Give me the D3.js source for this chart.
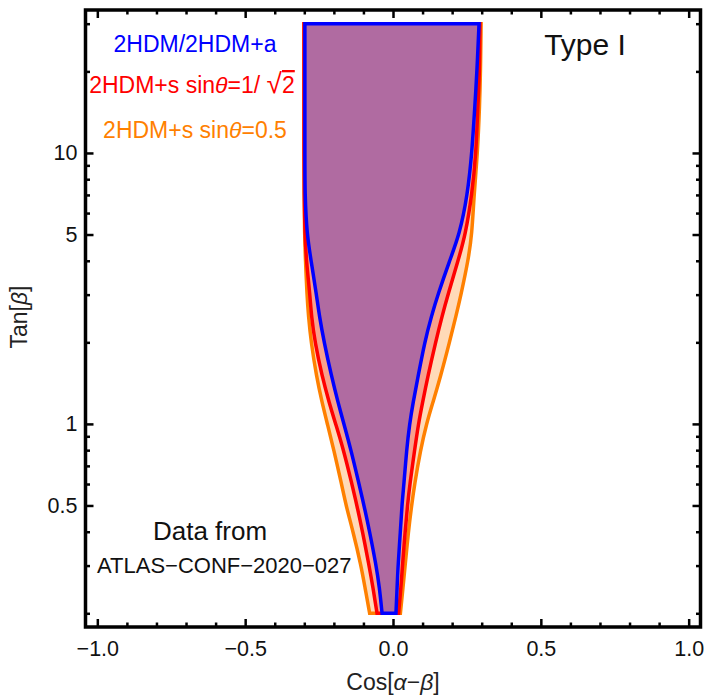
<!DOCTYPE html>
<html>
<head>
<meta charset="utf-8">
<title>Type I - Cos[a-b] vs Tan[b]</title>
<script src="https://cdn.jsdelivr.net/npm/d3@7"></script>
<style>
body { margin: 0; background: #fff; }
text { font-family: "Liberation Sans", Arial, sans-serif; }
.tick line { stroke: #000; stroke-width: 2.5; }
.tick text { font-size: 21.5px; fill: #111; }
</style>
</head>
<body>
<svg id="chart" width="707" height="696"></svg>
<script>
// tan(beta) sample points, shared by all boundaries (top -> bottom)
var tanB = [30, 20, 15, 10, 7, 5, 4, 3, 2.5, 2, 1.5, 1.2, 1, 0.8, 0.6, 0.5, 0.4, 0.3, 0.25, 0.2];

// 2HDM / 2HDM+a (blue)
var blueLeft  = [-0.298, -0.298, -0.298, -0.298, -0.298, -0.291, -0.277, -0.259, -0.249, -0.233, -0.208, -0.186, -0.166, -0.142, -0.115, -0.098, -0.079, -0.057, -0.046, -0.037];
var blueRight = [0.291, 0.284, 0.277, 0.267, 0.252, 0.225, 0.191, 0.152, 0.130, 0.107, 0.085, 0.068, 0.056, 0.046, 0.037, 0.030, 0.025, 0.017, 0.014, 0.010];

// 2HDM+s sin(theta)=1/sqrt2 (red)
var redLeft  = [-0.301, -0.301, -0.301, -0.301, -0.300, -0.298, -0.293, -0.281, -0.276, -0.264, -0.240, -0.216, -0.194, -0.167, -0.139, -0.122, -0.103, -0.081, -0.068, -0.054];
var redRight = [0.294, 0.293, 0.287, 0.281, 0.267, 0.245, 0.220, 0.186, 0.166, 0.144, 0.118, 0.100, 0.086, 0.073, 0.057, 0.049, 0.041, 0.032, 0.027, 0.019];

// 2HDM+s sin(theta)=0.5 (orange)
var orangeLeft  = [-0.301, -0.301, -0.301, -0.301, -0.301, -0.299, -0.296, -0.291, -0.286, -0.277, -0.259, -0.240, -0.222, -0.200, -0.174, -0.159, -0.135, -0.108, -0.095, -0.079];
var orangeRight = [0.298, 0.296, 0.293, 0.286, 0.274, 0.267, 0.254, 0.230, 0.213, 0.191, 0.161, 0.135, 0.113, 0.093, 0.073, 0.063, 0.052, 0.041, 0.034, 0.025];

// ticks
var xMajor = [-1, -0.5, 0, 0.5, 1];
var xMajorLabels = ["\u22121.0", "\u22120.5", "0.0", "0.5", "1.0"];
var xMinor = [-0.9, -0.8, -0.7, -0.6, -0.4, -0.3, -0.2, -0.1, 0.1, 0.2, 0.3, 0.4, 0.6, 0.7, 0.8, 0.9];
var yMajor = [0.5, 1, 5, 10];
var yMajorLabels = ["0.5", "1", "5", "10"];
var yMinor = [0.2, 0.3, 0.4, 0.6, 0.7, 0.8, 0.9, 2, 3, 4, 6, 7, 8, 9, 20, 30];

var L = 85.5, R = 700.5, T = 10, B = 627;

var x = d3.scaleLinear().domain([-1.04, 1.04]).range([L, R]);
var y = d3.scaleLog().domain([0.178, 33.7]).range([B, T]);

var svg = d3.select("#chart");
svg.append("rect").attr("width", 707).attr("height", 696).attr("fill", "#fff");

svg.append("clipPath").attr("id", "clip")
  .append("rect").attr("x", L).attr("y", T).attr("width", R - L).attr("height", B - T);

var regions = [
  { left: orangeLeft, right: orangeRight, fill: "#FFDAB8", stroke: "#FF8000" },
  { left: redLeft,    right: redRight,    fill: "#F8A08C", stroke: "#FF0000" },
  { left: blueLeft,   right: blueRight,   fill: "#B06BA1", stroke: "#0000FF" }
];

var area = d3.area()
  .curve(d3.curveBasis)
  .y(function(d) { return y(d.t); })
  .x0(function(d) { return x(d.l); })
  .x1(function(d) { return x(d.r); });

var plot = svg.append("g").attr("clip-path", "url(#clip)");
regions.forEach(function(reg) {
  var pts = tanB.map(function(t, i) { return { t: t, l: reg.left[i], r: reg.right[i] }; });
  plot.append("path")
    .attr("d", area(pts))
    .attr("fill", reg.fill)
    .attr("stroke", reg.stroke)
    .attr("stroke-width", 3.5)
    .attr("stroke-linejoin", "miter");
});

// axes: ticks point inward
function styleAxis(g) { g.select(".domain").remove(); }

svg.append("g").attr("transform", "translate(0," + B + ")")
  .call(d3.axisBottom(x).tickValues(xMajor).tickSize(-8).tickPadding(14)
    .tickFormat(function(d, i) { return xMajorLabels[i]; }))
  .call(styleAxis);
svg.append("g").attr("transform", "translate(0," + B + ")")
  .call(d3.axisBottom(x).tickValues(xMinor).tickSize(-4.5).tickFormat(""))
  .call(styleAxis);
svg.append("g").attr("transform", "translate(0," + T + ")")
  .call(d3.axisTop(x).tickValues(xMajor).tickSize(-8).tickFormat(""))
  .call(styleAxis);
svg.append("g").attr("transform", "translate(0," + T + ")")
  .call(d3.axisTop(x).tickValues(xMinor).tickSize(-4.5).tickFormat(""))
  .call(styleAxis);

svg.append("g").attr("transform", "translate(" + L + ",0)")
  .call(d3.axisLeft(y).tickValues(yMajor).tickSize(-8).tickPadding(8)
    .tickFormat(function(d, i) { return yMajorLabels[i]; }))
  .call(styleAxis);
svg.append("g").attr("transform", "translate(" + L + ",0)")
  .call(d3.axisLeft(y).tickValues(yMinor).tickSize(-4.5).tickFormat(""))
  .call(styleAxis);
svg.append("g").attr("transform", "translate(" + R + ",0)")
  .call(d3.axisRight(y).tickValues(yMajor).tickSize(-8).tickFormat(""))
  .call(styleAxis);
svg.append("g").attr("transform", "translate(" + R + ",0)")
  .call(d3.axisRight(y).tickValues(yMinor).tickSize(-4.5).tickFormat(""))
  .call(styleAxis);

// frame
svg.append("rect")
  .attr("x", L).attr("y", T).attr("width", R - L).attr("height", B - T)
  .attr("fill", "none").attr("stroke", "#000").attr("stroke-width", 3.5);

// axis titles
var xt = svg.append("text").attr("x", 393).attr("y", 690)
  .attr("text-anchor", "middle").attr("font-size", 23).attr("fill", "#222");
xt.append("tspan").text("Cos[");
xt.append("tspan").attr("font-style", "italic").text("\u03B1");
xt.append("tspan").text("\u2212");
xt.append("tspan").attr("font-style", "italic").text("\u03B2");
xt.append("tspan").text("]");

var yt = svg.append("text").attr("transform", "translate(27,317) rotate(-90)")
  .attr("text-anchor", "middle").attr("font-size", 23).attr("fill", "#222");
yt.append("tspan").text("Tan[");
yt.append("tspan").attr("font-style", "italic").text("\u03B2");
yt.append("tspan").text("]");

// legend labels
svg.append("text").attr("x", 195).attr("y", 52).attr("text-anchor", "middle")
  .attr("font-size", 23).attr("fill", "#0000FF").text("2HDM/2HDM+a");

var rt = svg.append("text").attr("x", 192).attr("y", 93).attr("text-anchor", "middle")
  .attr("font-size", 23).attr("fill", "#FF0000");
rt.append("tspan").text("2HDM+s sin");
rt.append("tspan").attr("font-style", "italic").text("\u03B8");
rt.append("tspan").text("=1/ ");
rt.append("tspan").attr("font-size", 28).text("\u221A");
rt.append("tspan").attr("text-decoration", "overline").text("2");

var ot = svg.append("text").attr("x", 195).attr("y", 138).attr("text-anchor", "middle")
  .attr("font-size", 23).attr("fill", "#FF8000");
ot.append("tspan").text("2HDM+s sin");
ot.append("tspan").attr("font-style", "italic").text("\u03B8");
ot.append("tspan").text("=0.5");

svg.append("text").attr("x", 585).attr("y", 55).attr("text-anchor", "middle")
  .attr("font-size", 30).attr("fill", "#111").text("Type I");

svg.append("text").attr("x", 210).attr("y", 540).attr("text-anchor", "middle")
  .attr("font-size", 26).attr("fill", "#111").text("Data from");

svg.append("text").attr("x", 97).attr("y", 573).attr("text-anchor", "start")
  .attr("font-size", 22).attr("fill", "#111").text("ATLAS\u2212CONF\u22122020\u2212027");
</script>
</body>
</html>
